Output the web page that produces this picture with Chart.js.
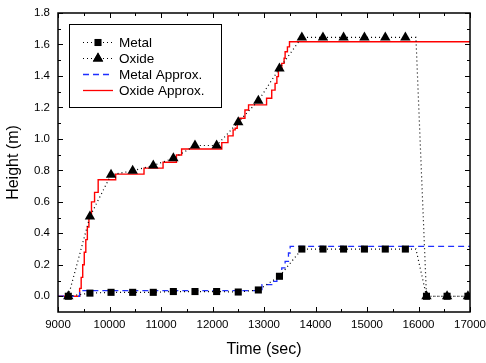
<!DOCTYPE html>
<html lang="en">
<head>
<meta charset="UTF-8">
<title>Height vs Time</title>
<style>
  body { margin: 0; background: #fff; }
  #wrap { width: 486px; height: 363px; }
</style>
</head>
<body>
<div id="wrap"><canvas id="chart" width="486" height="363"></canvas></div>
<script src="https://cdn.jsdelivr.net/npm/chart.js"></script>
<script>
  // measured heights (m) against time (sec)
  var times = [9200, 9620, 10030, 10450, 10850, 11240, 11660, 12080, 12500, 12890, 13300, 13735, 14145, 14545, 14950, 15355, 15745, 15950, 16155, 16555, 16960];
  var metal = [0, 0.02, 0.025, 0.025, 0.025, 0.03, 0.03, 0.03, 0.027, 0.04, 0.127, 0.30, 0.30, 0.30, 0.30, 0.30, 0.30, 0.30, 0, 0, 0];
  var oxide = [0, 0.507, 0.772, 0.797, 0.831, 0.877, 0.958, 0.958, 1.106, 1.243, 1.448, 1.645, 1.645, 1.645, 1.645, 1.645, 1.645, 1.645, 0, 0, 0];
  var noMarker = [15950]; // bend in the dotted lines, no symbol there

  // step approximations (time where the level changes, new level)
  var oxApproxT = [9000, 9420, 9450, 9480, 9510, 9540, 9570, 9600, 9650, 9710, 9780, 10120, 10670, 11040, 11300, 11400, 12180, 12300, 12400, 12440, 12480, 12530, 12630, 12700, 13050, 13150, 13215, 13250, 13280, 13345, 13390, 13410, 13455, 13495, 17000];
  var oxApproxH = [0, 0.05, 0.12, 0.2, 0.28, 0.36, 0.44, 0.52, 0.6, 0.66, 0.74, 0.776, 0.814, 0.852, 0.898, 0.936, 0.976, 1.019, 1.057, 1.068, 1.1, 1.131, 1.184, 1.216, 1.258, 1.31, 1.353, 1.396, 1.437, 1.48, 1.512, 1.554, 1.585, 1.617, 1.617];
  var mApproxT = [9000, 9420, 12960, 13150, 13250, 13345, 13410, 13475, 13508, 17000];
  var mApproxH = [0, 0.036, 0.074, 0.095, 0.138, 0.18, 0.222, 0.275, 0.317, 0.317];

  var xTicks = [9000, 10000, 11000, 12000, 13000, 14000, 15000, 16000, 17000];
  var yTicks = [0, 0.2, 0.4, 0.6, 0.8, 1.0, 1.2, 1.4, 1.6, 1.8];

  var FONT = "'Liberation Sans', Arial, sans-serif";

  function pts(xs, ys) {
    return xs.map(function (x, i) { return { x: x, y: ys[i] }; });
  }
  function markerRadius(r) {
    return function (ctx) {
      var p = ctx.raw;
      return p && noMarker.indexOf(p.x) >= 0 ? 0 : r;
    };
  }

  var legendItems = [
    { text: 'Metal', color: '#000', dash: [1, 3], marker: 'rect', r: 5 },
    { text: 'Oxide', color: '#000', dash: [1, 3], marker: 'triangle', r: 6 },
    { text: 'Metal Approx.', color: '#1f2fff', dash: [6, 4] },
    { text: 'Oxide Approx.', color: '#ff0000', dash: [] }
  ];

  // frame, inward ticks on all four sides, and the boxed legend
  var framePlugin = {
    id: 'frame',
    afterDraw: function (chart) {
      var c = chart.ctx, a = chart.chartArea;
      var xs = chart.scales.x, ys = chart.scales.y;
      c.save();
      c.strokeStyle = '#000';
      c.lineWidth = 1.5;
      c.strokeRect(a.left, a.top, a.right - a.left, a.bottom - a.top);

      c.lineWidth = 1;
      c.beginPath();
      function xTick(v, len) {
        var px = Math.round(xs.getPixelForValue(v)) + 0.5;
        c.moveTo(px, a.bottom); c.lineTo(px, a.bottom - len);
        c.moveTo(px, a.top); c.lineTo(px, a.top + len);
      }
      function yTick(v, len) {
        var py = Math.round(ys.getPixelForValue(v)) + 0.5;
        c.moveTo(a.left, py); c.lineTo(a.left + len, py);
        c.moveTo(a.right, py); c.lineTo(a.right - len, py);
      }
      xTicks.forEach(function (v, i) {
        xTick(v, 5);
        if (i < xTicks.length - 1) xTick((v + xTicks[i + 1]) / 2, 3);
      });
      yTicks.forEach(function (v, i) {
        yTick(v, 5);
        if (i < yTicks.length - 1) yTick((v + yTicks[i + 1]) / 2, 3);
      });
      c.stroke();

      // legend box
      var bx = 69, by = 24, bw = 152, bh = 83;
      c.fillStyle = '#fff';
      c.fillRect(bx, by, bw, bh);
      c.strokeStyle = '#000';
      c.lineWidth = 1;
      c.strokeRect(bx + 0.5, by + 0.5, bw, bh);
      c.font = '13.5px ' + FONT;
      c.textBaseline = 'middle';
      legendItems.forEach(function (it, i) {
        var y = Math.round(by + 18 + i * 16) + 0.5;
        c.strokeStyle = it.color;
        c.lineWidth = it.marker ? 1.2 : 1.3;
        c.setLineDash(it.dash);
        c.beginPath();
        c.moveTo(83, y); c.lineTo(113, y);
        c.stroke();
        c.setLineDash([]);
        if (it.marker) {
          Chart.helpers.drawPoint(c, { pointStyle: it.marker, radius: it.r, borderWidth: 0 }, 98, y);
          c.fillStyle = '#000';
          c.fill();
        }
        c.fillStyle = '#000';
        c.fillText(it.text, 119, y + 1);
      });
      c.restore();
    }
  };

  new Chart(document.getElementById('chart'), {
    type: 'line',
    data: {
      datasets: [{
        label: 'Metal',
        data: pts(times, metal),
        borderColor: '#000',
        borderWidth: 1.2,
        borderDash: [1, 3],
        pointStyle: 'rect',
        pointRadius: markerRadius(5),
        pointBackgroundColor: '#000',
        pointBorderWidth: 0,
        order: 0
      }, {
        label: 'Oxide',
        data: pts(times, oxide),
        borderColor: '#000',
        borderWidth: 1.2,
        borderDash: [1, 3],
        pointStyle: 'triangle',
        pointRadius: markerRadius(6),
        pointBackgroundColor: '#000',
        pointBorderWidth: 0,
        order: 0
      }, {
        label: 'Metal Approx.',
        data: pts(mApproxT, mApproxH),
        borderColor: '#1f2fff',
        borderWidth: 1.3,
        borderDash: [6, 4],
        stepped: 'before',
        pointRadius: 0,
        order: 1
      }, {
        label: 'Oxide Approx.',
        data: pts(oxApproxT, oxApproxH),
        borderColor: '#ff0000',
        borderWidth: 1.4,
        stepped: 'before',
        pointRadius: 0,
        order: 1
      }]
    },
    options: {
      responsive: false,
      animation: false,
      layout: { padding: { top: 13, right: 0, left: 0, bottom: 0 } },
      plugins: {
        legend: { display: false },
        tooltip: { enabled: false }
      },
      scales: {
        x: {
          type: 'linear',
          min: 9000,
          max: 17000,
          afterBuildTicks: function (s) { s.ticks = xTicks.map(function (v) { return { value: v }; }); },
          afterFit: function (s) { s.height = 51; s.paddingRight = 16; s.paddingLeft = 0; },
          grid: { display: false, drawTicks: false },
          border: { display: false },
          ticks: {
            color: '#000',
            font: { family: FONT, size: 11.5 },
            padding: 6,
            maxRotation: 0,
            callback: function (v) { return String(v); }
          },
          title: {
            display: true,
            text: 'Time (sec)',
            color: '#000',
            font: { family: FONT, size: 16 },
            padding: { top: 4 }
          }
        },
        y: {
          min: -0.1,
          max: 1.8,
          afterBuildTicks: function (s) { s.ticks = yTicks.map(function (v) { return { value: v }; }); },
          afterFit: function (s) { s.width = 58; s.paddingTop = 0; s.paddingBottom = 0; },
          grid: { display: false, drawTicks: false },
          border: { display: false },
          ticks: {
            color: '#000',
            font: { family: FONT, size: 11.5 },
            padding: 8,
            callback: function (v) { return v.toFixed(1); }
          },
          title: {
            display: true,
            text: 'Height (m)',
            color: '#000',
            font: { family: FONT, size: 16 },
            padding: { bottom: 0 }
          }
        }
      }
    },
    plugins: [framePlugin]
  });
</script>
</body>
</html>
